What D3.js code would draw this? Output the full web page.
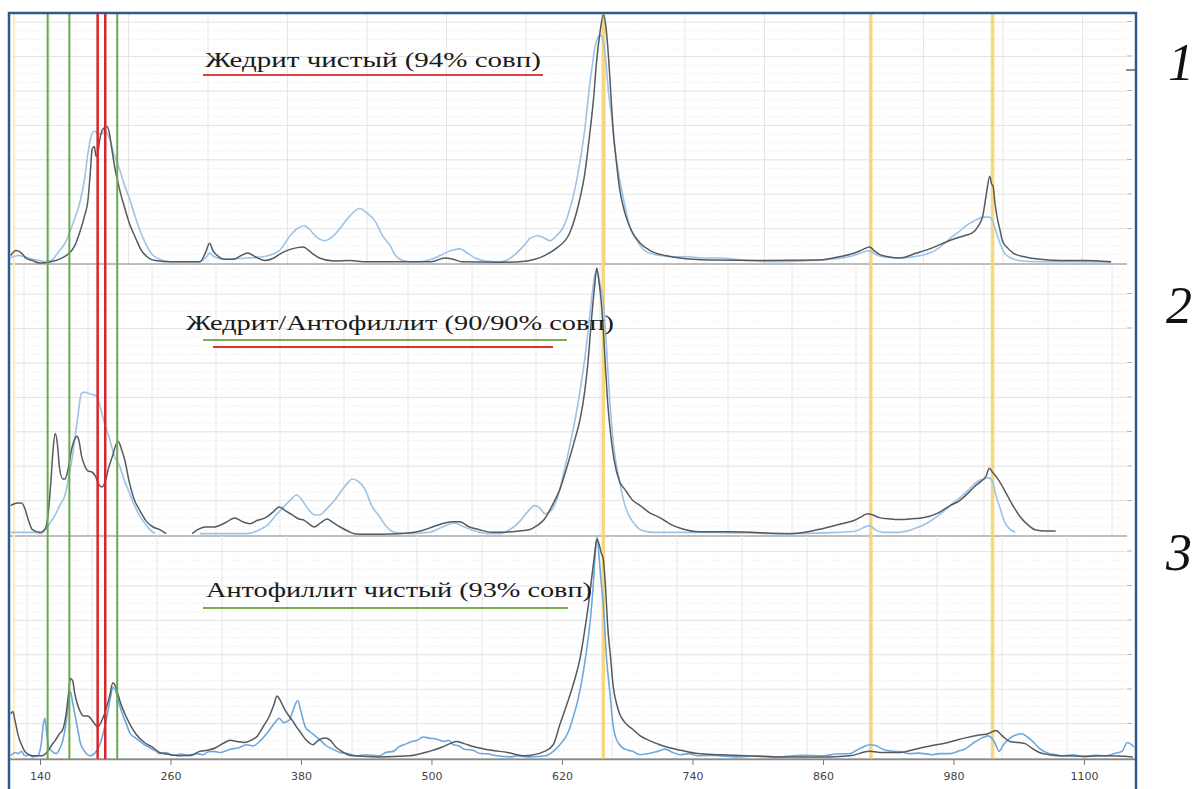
<!DOCTYPE html>
<html>
<head>
<meta charset="utf-8">
<script src="https://cdn.jsdelivr.net/npm/d3@7"></script>
<style>
  body { margin: 0; background: #fff; }
</style>
</head>
<body>
<div id="chart"></div>
<script>
// wavenumber ticks and marker lines (cm-1)
var tickValues = [140, 260, 380, 500, 620, 740, 860, 980, 1100];
var yellowLines = [658, 904, 1016];
var redLines = [193, 200];
var greenLines = [147, 167, 211];

// panel 1 - jedrite
var p1Dark = [[113,0.03],[118,0.05],[123,0.04],[127,0.02],[133,0.01],[140,0],[150,0.005],[160,0.02],[167,0.04],[172,0.07],[177,0.13],[181,0.19],[184,0.25],[186,0.35],[188,0.46],[190,0.47],[191.5,0.43],[193,0.44],[195,0.5],[198,0.54],[201.5,0.55],[204,0.52],[206,0.46],[209,0.38],[213,0.3],[218,0.22],[223,0.15],[228,0.1],[232,0.06],[240,0.02],[246,0.01],[260,0.005],[287,0.005],[292,0.04],[296,0.08],[299,0.05],[303,0.03],[310,0.015],[318,0.015],[325,0.03],[331,0.04],[338,0.025],[347,0.01],[355,0.02],[362,0.04],[370,0.055],[382,0.065],[390,0.04],[397,0.02],[410,0.008],[425,0.01],[440,0.005],[470,0.005],[500,0.005],[512,0.02],[520,0.015],[528,0.005],[560,0.003],[581,0.005],[595,0.015],[604,0.03],[615,0.06],[627,0.12],[636,0.25],[641,0.36],[645,0.5],[649,0.66],[652,0.82],[655,0.93],[658,1.0],[660.5,0.95],[663,0.82],[665,0.68],[667,0.54],[670,0.41],[673,0.3],[678,0.2],[684,0.13],[692,0.08],[701,0.05],[715,0.03],[728,0.02],[756,0.012],[802,0.01],[857,0.012],[875,0.025],[889,0.04],[897,0.055],[903,0.065],[907,0.05],[912,0.035],[920,0.025],[931,0.02],[946,0.04],[960,0.06],[976,0.09],[990,0.11],[997,0.12],[1003,0.15],[1007,0.19],[1010,0.27],[1013.5,0.35],[1015,0.32],[1016.5,0.31],[1018,0.25],[1020,0.19],[1023,0.13],[1025,0.09],[1030,0.06],[1035,0.04],[1045,0.025],[1060,0.015],[1080,0.01],[1100,0.01],[1125,0.005]];
var p1Blue = [[113,0.02],[120,0.03],[126,0.025],[133,0.015],[140,0.01],[145,0.005],[150,0.01],[158,0.05],[163,0.08],[167,0.12],[172,0.18],[177,0.25],[181,0.34],[184,0.44],[187,0.51],[189,0.53],[191,0.53],[193,0.52],[196,0.52],[200,0.53],[204,0.5],[208,0.44],[213,0.38],[218,0.31],[223,0.25],[228,0.18],[232,0.13],[237,0.08],[242,0.04],[250,0.015],[260,0.005],[287,0.005],[293,0.025],[296,0.04],[300,0.025],[310,0.015],[330,0.02],[345,0.025],[360,0.05],[370,0.11],[377,0.14],[383,0.15],[388,0.135],[393,0.11],[402,0.09],[410,0.11],[416,0.14],[425,0.19],[434,0.22],[441,0.2],[448,0.17],[455,0.11],[462,0.07],[467,0.03],[471,0.015],[480,0.005],[489,0.005],[500,0.015],[508,0.03],[518,0.05],[526,0.057],[533,0.04],[540,0.02],[550,0.008],[563,0.005],[571,0.015],[577,0.035],[585,0.07],[591,0.1],[598,0.11],[604,0.1],[609,0.09],[615,0.11],[620,0.135],[626,0.2],[632,0.3],[637,0.42],[641,0.54],[645,0.7],[648,0.8],[650,0.86],[653,0.91],[655,0.92],[657,0.91],[660,0.83],[663,0.68],[666,0.58],[669,0.45],[673,0.34],[677,0.25],[682,0.15],[689,0.09],[696,0.05],[710,0.03],[725,0.025],[737,0.025],[750,0.02],[764,0.02],[790,0.01],[817,0.005],[850,0.01],[884,0.025],[895,0.04],[903,0.05],[908,0.035],[915,0.025],[930,0.02],[950,0.03],[963,0.05],[972,0.08],[980,0.11],[986,0.13],[993,0.155],[999,0.17],[1004,0.18],[1008,0.185],[1013,0.185],[1016,0.17],[1019,0.13],[1022,0.09],[1027,0.04],[1033,0.02],[1040,0.01],[1060,0.005],[1090,0.005],[1125,0.003]];

// panel 2 - jedrite / anthophyllite (null = gap in the trace)
var p2Dark = [[113,0.11],[119,0.12],[123,0.12],[126,0.1],[129,0.06],[133,0.02],[140,0.01],[145,0.025],[148,0.1],[150,0.2],[152,0.32],[154,0.38],[156,0.34],[158,0.25],[161,0.21],[163,0.21],[166,0.25],[169,0.32],[172,0.36],[174,0.37],[176,0.35],[178,0.3],[181,0.26],[184,0.24],[188,0.235],[191,0.22],[194,0.19],[197,0.18],[200,0.2],[203,0.25],[207,0.3],[210,0.34],[212,0.35],[215,0.32],[218,0.28],[222,0.2],[226,0.14],[232,0.09],[238,0.05],[244,0.03],[250,0.02],[256,0.005],[268,null],[280,0.005],[285,0.02],[292,0.03],[300,0.03],[310,0.045],[319,0.064],[326,0.05],[333,0.042],[340,0.055],[347,0.064],[354,0.085],[360,0.105],[366,0.09],[372,0.075],[378,0.06],[383,0.055],[388,0.04],[392,0.03],[398,0.045],[404,0.06],[410,0.045],[416,0.03],[423,0.015],[429,0.005],[440,0.003],[470,0.005],[490,0.015],[501,0.03],[512,0.045],[520,0.05],[526,0.05],[535,0.03],[544,0.02],[555,0.01],[563,0.01],[580,0.015],[590,0.02],[597,0.035],[604,0.06],[611,0.11],[618,0.17],[625,0.26],[632,0.36],[637,0.44],[641,0.54],[644,0.65],[647,0.8],[650,0.93],[652,1.0],[654,0.95],[656,0.88],[658,0.77],[660,0.63],[662,0.5],[665,0.37],[668,0.28],[673,0.2],[678,0.17],[685,0.13],[692,0.11],[700,0.085],[710,0.065],[720,0.04],[729,0.025],[747,0.012],[775,0.012],[830,0.005],[850,0.015],[866,0.03],[880,0.045],[889,0.055],[896,0.07],[901,0.08],[906,0.075],[912,0.065],[922,0.06],[931,0.058],[940,0.06],[949,0.063],[958,0.07],[967,0.085],[977,0.11],[986,0.13],[993,0.155],[999,0.18],[1005,0.2],[1010,0.22],[1013,0.25],[1016,0.235],[1020,0.215],[1024,0.19],[1028,0.16],[1032,0.13],[1037,0.095],[1041,0.07],[1048,0.04],[1055,0.02],[1065,0.015],[1074,0.015]];
var p2Blue = [[113,0.01],[125,0.01],[135,0.01],[141,0.005],[145,0.02],[150,0.05],[154,0.075],[158,0.11],[163,0.15],[167,0.23],[170,0.3],[172,0.36],[175,0.45],[178,0.53],[181,0.535],[185,0.53],[189,0.525],[192,0.52],[194,0.5],[196,0.47],[200,0.41],[204,0.36],[208,0.3],[213,0.26],[218,0.2],[222,0.16],[227,0.11],[232,0.07],[237,0.04],[241,0.02],[246,0.005],[265,null],[287,0.005],[310,0.005],[330,0.005],[342,0.02],[350,0.04],[356,0.07],[363,0.1],[370,0.13],[376,0.15],[381,0.13],[388,0.09],[393,0.075],[397,0.075],[404,0.1],[411,0.13],[418,0.17],[424,0.2],[427,0.21],[433,0.2],[439,0.17],[445,0.11],[452,0.07],[459,0.03],[466,0.01],[480,0.005],[498,0.01],[510,0.03],[521,0.045],[530,0.03],[540,0.015],[553,0.005],[563,0.005],[572,0.02],[581,0.05],[588,0.085],[595,0.11],[600,0.1],[604,0.08],[608,0.085],[613,0.11],[618,0.17],[622,0.24],[627,0.33],[632,0.43],[637,0.55],[641,0.66],[645,0.8],[648,0.91],[650,0.97],[652,0.99],[655,0.94],[658,0.88],[661,0.7],[664,0.5],[668,0.32],[673,0.2],[678,0.11],[682,0.07],[687,0.04],[692,0.02],[705,0.01],[719,0.01],[760,0.01],[820,0.005],[875,0.01],[890,0.015],[903,0.035],[908,0.02],[915,0.01],[930,0.01],[945,0.025],[956,0.045],[967,0.075],[977,0.11],[986,0.14],[993,0.165],[999,0.19],[1004,0.205],[1008,0.21],[1012,0.215],[1016,0.2],[1019,0.15],[1023,0.1],[1027,0.05],[1030,0.03],[1037,0.01]];

// panel 3 - anthophyllite
var p3Dark = [[113,0.2],[115,0.21],[117,0.17],[120,0.1],[123,0.06],[126,0.03],[130,0.015],[133,0.01],[142,0.01],[147,0.03],[151,0.06],[154,0.08],[158,0.11],[161,0.13],[164,0.2],[166,0.28],[168,0.36],[170,0.35],[172,0.29],[174,0.25],[177,0.21],[180,0.19],[184,0.19],[188,0.17],[191,0.15],[193,0.14],[196,0.16],[200,0.21],[204,0.28],[207,0.34],[209,0.33],[211,0.3],[214,0.25],[218,0.2],[223,0.15],[228,0.11],[236,0.07],[243,0.05],[250,0.025],[260,0.015],[268,0.01],[280,0.015],[287,0.03],[294,0.035],[301,0.045],[308,0.065],[315,0.08],[321,0.075],[328,0.07],[334,0.08],[340,0.1],[345,0.14],[351,0.19],[355,0.24],[358,0.28],[361,0.26],[365,0.22],[369,0.19],[372,0.17],[376,0.14],[379,0.12],[385,0.08],[391,0.06],[396,0.08],[402,0.09],[407,0.08],[412,0.05],[416,0.035],[423,0.015],[429,0.01],[452,0.005],[480,0.01],[498,0.03],[510,0.05],[517,0.065],[523,0.075],[530,0.065],[540,0.05],[555,0.035],[570,0.025],[585,0.01],[604,0.03],[612,0.06],[618,0.15],[625,0.25],[632,0.36],[637,0.46],[641,0.58],[644,0.68],[647,0.8],[650,0.92],[652,0.99],[654,0.97],[656,0.93],[658,0.9],[660,0.78],[662,0.6],[665,0.44],[667,0.33],[670,0.25],[673,0.2],[678,0.16],[685,0.13],[692,0.1],[700,0.08],[710,0.06],[720,0.045],[729,0.035],[745,0.02],[765,0.015],[790,0.01],[820,0.005],[866,0.005],[885,0.01],[903,0.03],[915,0.025],[931,0.025],[945,0.04],[959,0.055],[975,0.07],[990,0.09],[1005,0.105],[1012,0.11],[1019,0.125],[1025,0.1],[1032,0.075],[1040,0.07],[1046,0.065],[1052,0.045],[1059,0.025],[1068,0.015],[1077,0.01],[1100,0.008],[1120,0.01],[1145,0.005]];
var p3Blue = [[113,0.01],[117,0.025],[120,0.02],[123,0.03],[126,0.01],[130,0.015],[133,0.005],[138,0.01],[141,0.06],[143,0.15],[144.5,0.18],[146,0.12],[148,0.05],[151,0.03],[155,0.02],[158,0.04],[161,0.08],[164,0.16],[166,0.24],[168,0.3],[170,0.25],[172,0.2],[175,0.12],[177,0.07],[181,0.03],[186,0.01],[190,0.02],[195,0.06],[199,0.13],[202,0.2],[205,0.28],[207,0.32],[209,0.31],[212,0.26],[215,0.21],[219,0.16],[223,0.11],[228,0.09],[232,0.075],[236,0.06],[240,0.05],[243,0.04],[247,0.03],[250,0.02],[256,0.025],[262,0.012],[270,0.018],[278,0.01],[284,0.02],[290,0.015],[295,0.028],[300,0.03],[306,0.025],[315,0.04],[322,0.045],[330,0.06],[336,0.055],[343,0.08],[350,0.12],[356,0.16],[360,0.18],[364,0.16],[369,0.17],[373,0.22],[377,0.26],[380,0.21],[384,0.14],[388,0.12],[393,0.1],[398,0.08],[402,0.06],[409,0.04],[416,0.025],[423,0.02],[430,0.01],[440,0.015],[452,0.01],[458,0.025],[465,0.03],[470,0.05],[477,0.065],[482,0.075],[487,0.08],[492,0.095],[498,0.09],[505,0.085],[512,0.075],[516,0.08],[520,0.06],[525,0.055],[530,0.04],[538,0.035],[545,0.02],[552,0.018],[560,0.01],[572,0.005],[580,0.01],[590,0.005],[605,0.01],[612,0.03],[618,0.06],[626,0.12],[630,0.18],[635,0.27],[640,0.4],[643,0.5],[646,0.62],[649,0.8],[651,0.95],[652.5,1.0],[654,0.92],[656,0.8],[658,0.7],[661,0.45],[664,0.3],[667,0.15],[669,0.1],[673,0.06],[678,0.04],[685,0.03],[692,0.015],[700,0.02],[708,0.03],[715,0.04],[722,0.025],[729,0.015],[737,0.02],[745,0.01],[760,0.012],[780,0.005],[800,0.01],[820,0.005],[840,0.012],[860,0.01],[872,0.018],[885,0.02],[891,0.035],[897,0.05],[903,0.06],[909,0.055],[915,0.04],[925,0.03],[932,0.028],[940,0.02],[948,0.022],[960,0.015],[968,0.02],[977,0.02],[984,0.03],[990,0.04],[995,0.055],[999,0.07],[1006,0.09],[1012,0.1],[1018,0.07],[1022,0.03],[1026,0.06],[1032,0.09],[1038,0.105],[1043,0.11],[1048,0.095],[1054,0.07],[1060,0.04],[1068,0.02],[1075,0.015],[1080,0.01],[1090,0.015],[1100,0.005],[1110,0.012],[1120,0.01],[1128,0.02],[1135,0.03],[1140,0.07],[1146,0.05]];

var labels = ["Жедрит чистый (94% совп)", "Жедрит/Антофиллит (90/90% совп)", "Антофиллит чистый (93% совп)"];
var panelNumbers = ["1", "2", "3"];

var svgWidth = 1194;
var svgHeight = 789;

var svg = d3.select("#chart")
  .append("svg")
  .attr("width", svgWidth)
  .attr("height", svgHeight);

svg.append("rect")
  .attr("width", svgWidth)
  .attr("height", svgHeight)
  .attr("fill", "white");

// layer order: grid, yellow markers, traces, everything else on top
var gridGroup = svg.append("g");
var yellowGroup = svg.append("g");
var curveGroup = svg.append("g");

// one shared wavenumber scale for all three panels
var xScale = d3.scaleLinear()
  .domain([112.4, 1147])
  .range([10, 1135]);

// each panel: baseline / top pixel, grid start + step, series, label position
var panels = [
  { y0: 263, y1: 15, top: 14, bottom: 265, gridStart: 49, gridStep: 79.5, dark: p1Dark, blue: p1Blue,
    label: { x: 205, y: 67, w: 336 }, under: [{ y: 75, x1: 203, x2: 543, c: "#e0404a" }], num: { x: 1168, y: 80 } },
  { y0: 535, y1: 268, top: 266, bottom: 535, gridStart: 24, gridStep: 64, dark: p2Dark, blue: p2Blue,
    label: { x: 186, y: 330, w: 428 }, under: [{ y: 340, x1: 203, x2: 567, c: "#7aae52" }, { y: 347, x1: 213, x2: 553, c: "#e03030" }], num: { x: 1166, y: 323 } },
  { y0: 758, y1: 537, top: 536, bottom: 758, gridStart: 27, gridStep: 65, dark: p3Dark, blue: p3Blue,
    label: { x: 206, y: 597, w: 386 }, under: [{ y: 608, x1: 203, x2: 568, c: "#7aae52" }], num: { x: 1166, y: 570 } }
];

panels.forEach(function(p, i) {
  var yScale = d3.scaleLinear().domain([0, 1]).range([p.y0, p.y1]);

  // horizontal grid: faint minor and light major lines
  d3.range(p.y0 - 8.6, p.top, -8.6).forEach(function(y, k) {
    gridGroup.append("line")
      .attr("x1", 12).attr("x2", 1126)
      .attr("y1", y).attr("y2", y)
      .attr("stroke", (k + 1) % 4 == 0 ? "#e2e2e2" : "#f2f2f2")
      .attr("stroke-dasharray", (k + 1) % 4 == 0 ? null : "3,2")
      .attr("stroke-width", 1);
  });
  // vertical grid
  d3.range(p.gridStart, 1126, p.gridStep).forEach(function(x) {
    gridGroup.append("line")
      .attr("x1", x).attr("x2", x)
      .attr("y1", p.top).attr("y2", p.bottom)
      .attr("stroke", "#e6e6e6")
      .attr("stroke-width", 1);
  });
  // right-hand tick marks
  d3.range(p.y0 - 34.5, p.top, -34.5).forEach(function(y) {
    gridGroup.append("line")
      .attr("x1", 1127).attr("x2", 1132)
      .attr("y1", y).attr("y2", y)
      .attr("stroke", "#b0b0b0");
  });
  // panel baseline
  gridGroup.append("line")
    .attr("x1", 10).attr("x2", i == 2 ? 1135 : 1127)
    .attr("y1", p.y0 + 1).attr("y2", p.y0 + 1)
    .attr("stroke", "#a8a8a8")
    .attr("stroke-width", 1.3);

  var line = d3.line()
    .defined(d => d[1] !== null)
    .x(d => xScale(d[0]))
    .y(d => yScale(d[1]))
    .curve(d3.curveMonotoneX);

  var clipId = "clip" + i;
  svg.append("clipPath").attr("id", clipId)
    .append("rect")
    .attr("x", 10).attr("y", p.top - 2)
    .attr("width", 1126).attr("height", p.bottom - p.top + 4);

  var g = curveGroup.append("g").attr("clip-path", "url(#" + clipId + ")");

  g.append("path")
    .datum(p.blue)
    .attr("fill", "none")
    .attr("stroke", i == 2 ? "#6fa8dc" : "#9cc3e8")
    .attr("stroke-width", 1.6)
    .attr("d", line);

  g.append("path")
    .datum(p.dark)
    .attr("fill", "none")
    .attr("stroke", "#555a60")
    .attr("stroke-width", 1.5)
    .attr("d", line);
});

// yellow marker lines go under the traces
yellowGroup.selectAll("line")
  .data(yellowLines)
  .enter()
  .append("line")
  .attr("x1", d => xScale(d)).attr("x2", d => xScale(d))
  .attr("y1", 14).attr("y2", 760)
  .attr("stroke", "#f7d372")
  .attr("stroke-width", 3.5)
  .attr("opacity", 0.9);

// pale yellow stripe at the left edge
yellowGroup.append("line")
  .attr("x1", 14).attr("x2", 14)
  .attr("y1", 14).attr("y2", 760)
  .attr("stroke", "#fbeec0")
  .attr("stroke-width", 2);

// top panel long tick on the right
svg.append("line")
  .attr("x1", 1126).attr("x2", 1135)
  .attr("y1", 70).attr("y2", 70)
  .attr("stroke", "#666")
  .attr("stroke-width", 1.5);

// red and green marker lines over the traces
svg.append("g").selectAll("line")
  .data(greenLines)
  .enter()
  .append("line")
  .attr("x1", d => xScale(d)).attr("x2", d => xScale(d))
  .attr("y1", 14).attr("y2", 760)
  .attr("stroke", "#6aa84f")
  .attr("stroke-width", 2);

svg.append("g").selectAll("line")
  .data(redLines)
  .enter()
  .append("line")
  .attr("x1", d => xScale(d)).attr("x2", d => xScale(d))
  .attr("y1", 14).attr("y2", 760)
  .attr("stroke", "#d6262b")
  .attr("stroke-width", 2.5);

// labels with their coloured underlines
panels.forEach(function(p, i) {
  svg.append("text")
    .attr("x", p.label.x)
    .attr("y", p.label.y)
    .attr("textLength", p.label.w)
    .attr("lengthAdjust", "spacingAndGlyphs")
    .attr("font-family", "'Liberation Serif', 'DejaVu Serif', serif")
    .attr("font-size", "22px")
    .attr("fill", "#1a1a1a")
    .text(labels[i]);

  p.under.forEach(function(u) {
    svg.append("line")
      .attr("x1", u.x1).attr("x2", u.x2)
      .attr("y1", u.y).attr("y2", u.y)
      .attr("stroke", u.c)
      .attr("stroke-width", 2);
  });

  svg.append("text")
    .attr("x", p.num.x)
    .attr("y", p.num.y)
    .attr("font-family", "'Liberation Serif', serif")
    .attr("font-style", "italic")
    .attr("font-size", "52px")
    .attr("fill", "#111")
    .text(panelNumbers[i]);
});

// bottom wavenumber axis
var axis = d3.axisBottom(xScale)
  .tickValues(tickValues)
  .tickFormat(d3.format("d"))
  .tickSize(6)
  .tickSizeOuter(0);

var axisG = svg.append("g")
  .attr("transform", "translate(0, 759)")
  .call(axis);

axisG.select(".domain").attr("stroke", "#8a8a8a").attr("stroke-width", 1.3);
axisG.selectAll(".tick line").attr("stroke", "#777");
axisG.selectAll(".tick text")
  .attr("font-family", "'DejaVu Sans', sans-serif")
  .attr("font-size", "11px")
  .attr("fill", "#444")
  .attr("dy", "1.1em");

// blue outer frame
svg.append("path")
  .attr("d", "M9,792 L9,13 L1136,13 L1136,792")
  .attr("fill", "none")
  .attr("stroke", "#2f5b8a")
  .attr("stroke-width", 2.5);
</script>
</body>
</html>
